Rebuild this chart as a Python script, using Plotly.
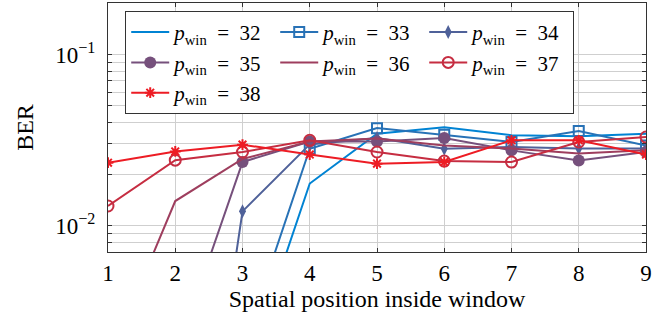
import plotly.graph_objects as go

positions = [1, 2, 3, 4, 5, 6, 7, 8, 9]
series_names = ["32", "33", "34", "35", "36", "37", "38"]

ber_32 = [1e-6, 1e-5, 0.0012, 0.0176, 0.0344, 0.0376, 0.0337, 0.0333, 0.0344]
ber_33 = [1e-6, 1e-5, 0.0019, 0.0281, 0.0371, 0.0339, 0.0308, 0.0357, 0.0294]
ber_34 = [1e-7, 2.7e-5, 0.0121, 0.0298, 0.0325, 0.0281, 0.0288, 0.0282, 0.0282]
ber_35 = [1e-5, 0.0017, 0.0235, 0.0310, 0.0310, 0.0325, 0.0275, 0.0240, 0.0269]
ber_36 = [0.0016, 0.0139, 0.0245, 0.0310, 0.0323, 0.0294, 0.0282, 0.0264, 0.0275]
ber_37 = [0.0130, 0.0241, 0.0269, 0.0315, 0.0269, 0.0238, 0.0235, 0.0308, 0.0329]
ber_38 = [0.0233, 0.0271, 0.0297, 0.0260, 0.0230, 0.0235, 0.0315, 0.0315, 0.0260]

all_series = [ber_32, ber_33, ber_34, ber_35, ber_36, ber_37, ber_38]

y_tickvals = [0.008, 0.009, 0.01, 0.02, 0.03, 0.04, 0.05, 0.06, 0.07, 0.08, 0.09, 0.1, 0.2]
y_ticktext = ["", "", "10<sup>\u22122</sup>", "", "", "", "", "", "", "", "", "10<sup>\u22121</sup>", ""]

c0 = (0, 131, 211)
c1 = (237, 28, 36)
def mix(t):
    return "rgb(%d,%d,%d)" % tuple(round(a + (b - a) * t) for a, b in zip(c0, c1))

markers = [
    None,
    dict(symbol="square-open", size=10, line=dict(width=2)),
    dict(symbol="diamond-tall", size=10),
    dict(symbol="circle", size=12),
    None,
    dict(symbol="circle-open", size=11, line=dict(width=2)),
    dict(symbol="asterisk-open", size=9, line=dict(width=2)),
]

font_fam = "Liberation Serif, Times New Roman, serif"
fig = go.Figure()
for i, (name, vals, mk) in enumerate(zip(series_names, all_series, markers)):
    col = mix(i / 6)
    kw = dict(mode="lines")
    if mk is not None:
        m = dict(mk)
        m["color"] = col
        if "line" in m:
            m["line"] = dict(width=m["line"]["width"], color=col)
        kw = dict(mode="lines+markers", marker=m)
    fig.add_trace(go.Scatter(
        x=positions, y=vals,
        name="<i>p</i><sub>win</sub>\u2002=\u2002" + name,
        line=dict(color=col, width=2),
        cliponaxis=True,
        **kw))

fig.update_layout(
    width=672, height=322,
    margin=dict(l=108, r=26, t=3, b=70),
    plot_bgcolor="white", paper_bgcolor="white",
    font=dict(family=font_fam, size=23, color="black"),
    legend=dict(
        orientation="h", x=0.032, y=0.968, xanchor="left", yanchor="top",
        bgcolor="white", bordercolor="#333333", borderwidth=1,
        entrywidth=96, entrywidthmode="pixels",
        font=dict(family=font_fam, size=21),
        tracegroupgap=0, itemwidth=38,
    ),
    xaxis=dict(
        range=[1, 9], tickvals=positions, ticktext=[str(p) for p in positions],
        showgrid=True, gridcolor="#cfcfcf", gridwidth=1,
        showline=True, linecolor="#333333", linewidth=1, mirror="ticks",
        ticks="inside", ticklen=4, tickcolor="#333333",
        zeroline=False, automargin=False,
        title=dict(text="Spatial position inside window", standoff=5,
                   font=dict(family=font_fam, size=24)),
    ),
    yaxis=dict(
        type="log", range=[-2.1549, -0.69897],
        tickvals=y_tickvals, ticktext=y_ticktext,
        showgrid=True, gridcolor="#cfcfcf", gridwidth=1,
        showline=True, linecolor="#333333", linewidth=1, mirror="ticks",
        ticks="inside", ticklen=4, tickcolor="#333333",
        zeroline=False, automargin=False, ticklabelstandoff=7,
        title=dict(text="BER", standoff=14,
                   font=dict(family=font_fam, size=24)),
    ),
)

fig.write_html("out.html", config={"displayModeBar": False},
               post_script="document.body.style.margin='0';document.body.style.padding='0';")
